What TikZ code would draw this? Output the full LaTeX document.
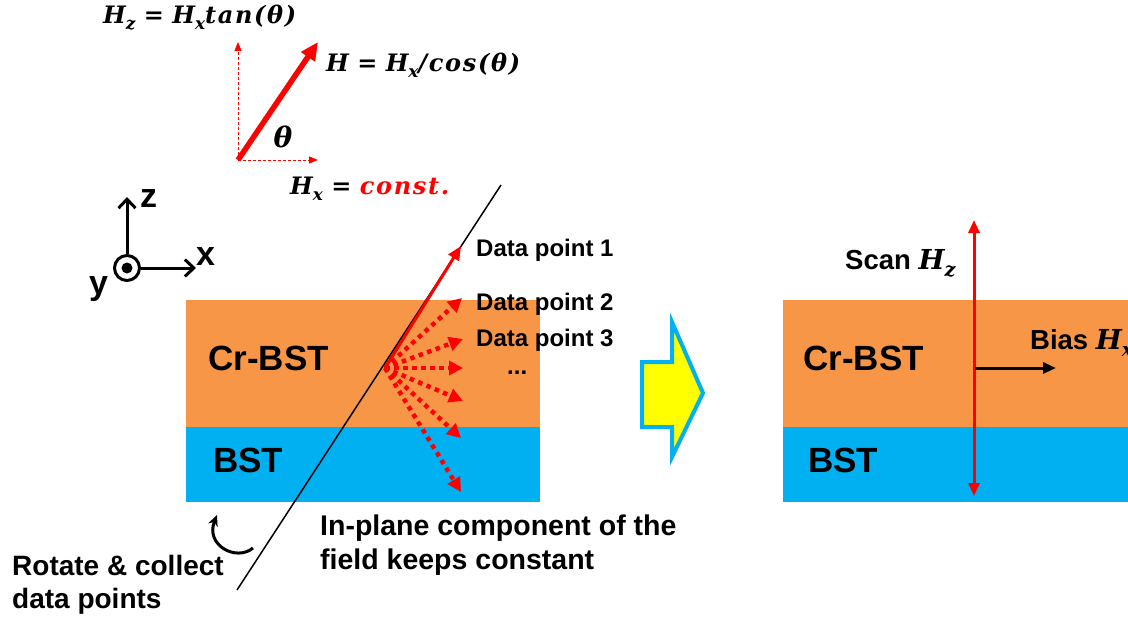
\documentclass[tikz,border=0pt]{standalone}
\usepackage{fontspec}
\setmainfont{Liberation Sans}
\newfontfamily\symserif{DejaVu Serif}[LetterSpace=7]
\usetikzlibrary{arrows.meta}
\definecolor{crbst}{HTML}{F79646}
\definecolor{bst}{HTML}{00B0F0}
\definecolor{fieldred}{HTML}{FF0000}
\definecolor{blockyellow}{HTML}{FFFF00}
% bold italic serif for field symbols
\newcommand\fsym[1]{{\symserif\bfseries\itshape #1}}
\newcommand\sub[1]{\raisebox{-0.25em}{\fontsize{0.7em}{0.7em}\selectfont #1}}
\newcommand\eqsign{\hspace{0.35em}=\hspace{0.35em}}
\tikzset{
  txt/.style={font=\bfseries\fontsize{#1}{#1}\selectfont, inner sep=0pt, anchor=west},
  txt/.default=24,
  mth/.style={font=\symserif\bfseries\itshape\fontsize{#1}{#1}\selectfont, inner sep=0pt, anchor=west},
  mth/.default=24,
  comp/.style={draw=fieldred, line width=1pt, dash pattern=on 3pt off 2pt,
    -{Triangle[length=9pt,width=7pt]}},
  total/.style={draw=fieldred, line width=5.5pt, -{Triangle[length=18pt,width=16pt]}},
  fan/.style={draw=fieldred, line width=4.5pt, dash pattern=on 4.5pt off 4.5pt,
    -{Triangle[length=14pt,width=14pt]}},
  axis/.style={draw=black, line width=3pt, -{Straight Barb[length=9pt,width=17pt]}},
  scan/.style={draw=fieldred, line width=3pt, {Triangle[length=13pt,width=11pt]}-{Triangle[length=13pt,width=11pt]}},
  bias/.style={draw=black, line width=3pt, -{Triangle[length=13pt,width=11pt]}},
}
\begin{document}
\begin{tikzpicture}[x=1pt,y=-1pt]
\useasboundingbox (0,0) rectangle (1128,621);

% ---------- field decomposition ----------
\coordinate (o) at (238,160);
\coordinate (htip) at (318,42);
\coordinate (ztip) at (238,42);
\coordinate (xtip) at (318,160);
\draw[comp] (o) -- (ztip);
\draw[comp] (o) -- (xtip);
\draw[total] (o) -- (htip);
\node[mth=24] (hz) at (103,18) {H\sub{z}\eqsign H\sub{x}tan(θ)};
\node[mth=24] (hh) at (326,65) {H\eqsign H\sub{x}/cos(θ)};
\node[mth=24] (hx) at (290,189) {H\sub{x}\eqsign\textcolor{fieldred}{const.}};
\node[mth=28, anchor=center] (th) at (283,137) {θ};

% ---------- axes ----------
\node[circle, draw, line width=3pt, minimum size=25pt, inner sep=0pt] (yax) at (127,268) {};
\fill (yax.center) circle (5.5pt);
\coordinate (zend) at (127,197);
\coordinate (xend) at (196,268);
\draw[axis] (yax.north) -- (zend);
\draw[axis] (yax.east) -- (xend);
\node[txt=34] (zl) at (140,199) {z};
\node[txt=34] (xl) at (196,257) {x};
\node[txt=34] (yl) at (89,289) {y};

% ---------- sample, rotating field ----------
\fill[crbst] (186,300) rectangle (540,427);
\fill[bst] (186,427) rectangle (540,502);
\node[txt=35] (crl) at (208,358) {Cr-BST};
\node[txt=35] (bstl) at (213,460) {BST};

\coordinate (lb) at (237,590);
\coordinate (lt) at (501,185);
\draw[line width=1.5pt] (lb) -- (lt);

\coordinate (f0) at (385,368);
\coordinate (f1) at (461,246);
\draw[draw=fieldred, line width=3pt, -{Triangle[length=14pt,width=12pt]}] (f0) -- (f1);
\foreach \n/\tx/\ty in {2/462/298, 3/463/339, 4/463/368, 5/463/401, 6/461/438, 7/461/492}{
  \coordinate (f\n) at (\tx,\ty);
  \draw[fan] (f0) -- (f\n);
}
\node[txt=24] (d1) at (476,250) {Data point 1};
\node[txt=24] (d2) at (476,304) {Data point 2};
\node[txt=24] (d3) at (476,340) {Data point 3};
\node[txt=24] (dd) at (507,373) {...};

% rotation hint
\coordinate (rs) at (253,548);
\coordinate (re) at (217,515);
\draw[line width=3pt, -{Stealth[length=11pt,width=10pt]}] (rs) .. controls (236,562) and (205,545) .. (re);

\node[txt=28, align=left] (rot) at (12,585) {Rotate \& collect\\[5pt]data points};
\node[txt=28.5, align=left] (inp) at (320,545) {In-plane component of the\\[5pt]field keeps constant};

% ---------- block arrow ----------
\draw[draw=bst, fill=blockyellow, line width=4pt, line join=miter]
  (642,362) -- (672,362) -- (672,322) -- (703,393) -- (672,457) -- (672,427) -- (642,427) -- cycle;

% ---------- sample, fixed bias ----------
\fill[crbst] (783,300) rectangle (1128,427);
\fill[bst] (783,427) rectangle (1128,502);
\node[txt=35] (crr) at (803,358) {Cr-BST};
\node[txt=35] (bstr) at (808,460) {BST};

\coordinate (st) at (974,220);
\coordinate (sb) at (974,496);
\draw[scan] (sb) -- (st);
\coordinate (bs) at (975,368);
\coordinate (be) at (1056,368);
\draw[bias] (bs) -- (be);
\node[txt=27.5] (scl) at (845,263) {Scan \fsym{H\sub{z}}};
\node[txt=27.5] (bil) at (1030,343) {Bias \fsym{H\sub{x}}};
\end{tikzpicture}
\end{document}
